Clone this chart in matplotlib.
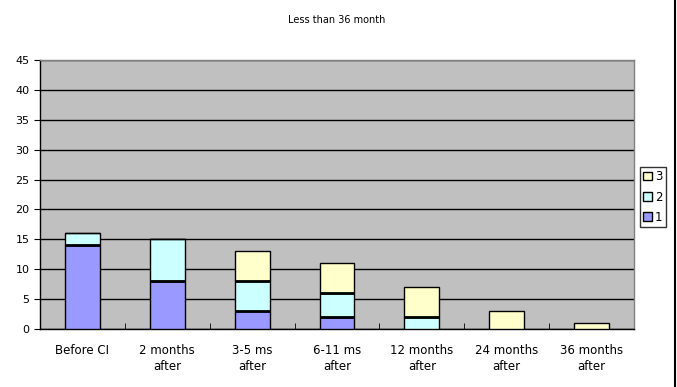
import matplotlib
matplotlib.use("Agg")
import matplotlib.pyplot as plt
import numpy as np

categories = ["Before CI", "2 months\nafter", "3-5 ms\nafter", "6-11 ms\nafter",
              "12 months\nafter", "24 months\nafter", "36 months\nafter"]
s1 = [14, 8, 3, 2, 0, 0, 0]
s2 = [2, 7, 5, 4, 2, 0, 0]
s3 = [0, 0, 5, 5, 5, 3, 1]
series_names = ["1", "2", "3"]
colors = ["#9999FF", "#CCFFFF", "#FFFFCC"]
yticks = list(range(0, 50, 5))

W, H = 677, 387
fig = plt.figure(figsize=(W/100, H/100), dpi=100)
ax = fig.add_axes([40/W, 1-329/H, (634-40)/W, (329-60)/H])
ax.set_facecolor("#C0C0C0")
x = np.arange(len(categories))
bw = 0.41
bottom = np.zeros(len(categories))
handles = []
for vals, c, n in zip([s1, s2, s3], colors, series_names):
    b = ax.bar(x, vals, bw, bottom=bottom, color=c, edgecolor="black", linewidth=1, label=n, zorder=3)
    handles.append(b)
    bottom += np.array(vals)
# thicker separator lines between stacked segments
for i in range(len(categories)):
    for top in [s1[i], s1[i]+s2[i]]:
        if 0 < top < s1[i]+s2[i]+s3[i]:
            ax.plot([x[i]-bw/2, x[i]+bw/2], [top, top], color="black", lw=2, zorder=4, solid_capstyle="butt")
ax.set_xlim(-0.5, len(categories)-0.5)
ax.set_ylim(0, 45)
ax.set_yticks(yticks)
ax.yaxis.grid(True, color="black", lw=1, zorder=1)
ax.set_axisbelow(True)
ax.set_xticks(x)
ax.set_xticklabels(categories, fontsize=8.5, linespacing=1.3)
ax.set_xticks(np.arange(-0.5, len(categories), 1), minor=True)
ax.tick_params(axis="x", which="major", length=0, pad=11)
ax.tick_params(axis="x", which="minor", length=4, direction="in")
ax.tick_params(axis="y", labelsize=8, length=4, direction="out")
for s in ax.spines.values():
    s.set_color("black"); s.set_linewidth(1)
ax.spines["top"].set_color("#808080")
ax.spines["right"].set_color("#808080")
fig.text(337/W, 1-20/H, "Less than 36 month", ha="center", va="center", fontsize=7)
leg = fig.legend(handles=handles[::-1], labels=series_names[::-1], loc="center",
                 bbox_to_anchor=(653/W, 1-197/H), fontsize=8.5, frameon=True,
                 handlelength=0.7, handleheight=0.7, handletextpad=0.3,
                 borderpad=0.3, labelspacing=0.6, fancybox=False, edgecolor="black")
leg.get_frame().set_linewidth(1)
fig.add_artist(plt.Line2D([675/W, 675/W], [0, 1], color="black", lw=1.5, transform=fig.transFigure))
fig.savefig("out.png", dpi=100)
